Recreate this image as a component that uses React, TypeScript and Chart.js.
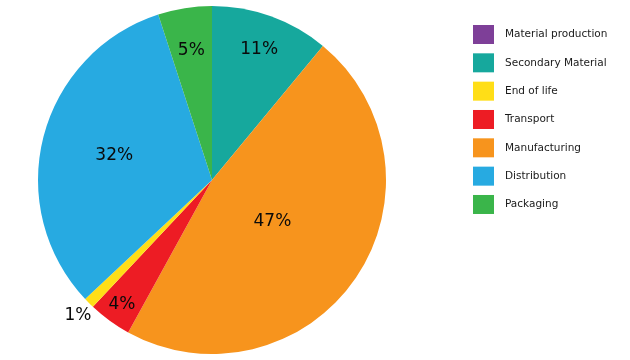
import React, { useEffect, useRef } from "react";
import { Chart, registerables } from "chart.js";

Chart.register(...registerables);

// Slice order (clockwise from 12 o'clock)
const categories = [
  "Material production",
  "Secondary Material",
  "Manufacturing",
  "Transport",
  "End of life",
  "Distribution",
  "Packaging",
];
const shares = [0, 11, 47, 4, 1, 32, 5];
const colors = ["#7E3F98", "#16A89D", "#F7941D", "#ED1C24", "#FFDE17", "#27AAE1", "#3AB54A"];
// Legend order
const legendOrder = [
  "Material production",
  "Secondary Material",
  "End of life",
  "Transport",
  "Manufacturing",
  "Distribution",
  "Packaging",
];
// Radial position of each percentage label (fraction of radius)
const labelRadius = [0.8, 0.8, 0.42, 0.88, 1.09, 0.58, 0.76];

const FONT = '"DejaVu Sans", Verdana, sans-serif';

const labelPlugin = {
  id: "sliceLabels",
  afterDatasetsDraw(chart: any) {
    const ctx = chart.ctx;
    const meta = chart.getDatasetMeta(0);
    ctx.save();
    ctx.font = `17px ${FONT}`;
    ctx.fillStyle = "#0a0a0a";
    ctx.textAlign = "center";
    ctx.textBaseline = "middle";
    meta.data.forEach((arc: any, i: number) => {
      const v = shares[i];
      if (!v) return;
      const p = arc.getProps(["x", "y", "startAngle", "endAngle", "outerRadius"], true);
      const mid = (p.startAngle + p.endAngle) / 2;
      const r = p.outerRadius * labelRadius[i];
      ctx.fillText(`${v}%`, p.x + Math.cos(mid) * r, p.y + Math.sin(mid) * r + 1);
    });
    ctx.restore();
  },
};

const legendPlugin = {
  id: "customLegend",
  afterDraw(chart: any) {
    const ctx = chart.ctx;
    const x0 = 473;
    const y0 = 25;
    const step = 28.33;
    ctx.save();
    ctx.font = `10.5px ${FONT}`;
    ctx.textBaseline = "middle";
    ctx.textAlign = "left";
    legendOrder.forEach((name, k) => {
      const i = categories.indexOf(name);
      const y = y0 + k * step;
      ctx.fillStyle = colors[i];
      ctx.fillRect(x0, y, 21, 19);
      ctx.fillStyle = "#1a1a1a";
      ctx.fillText(name, x0 + 32, y + 9.5);
    });
    ctx.restore();
  },
};

export default function App() {
  const ref = useRef<HTMLCanvasElement>(null);
  useEffect(() => {
    if (!ref.current) return;
    const chart = new Chart(ref.current, {
      type: "pie",
      data: {
        labels: categories,
        datasets: [
          {
            data: shares,
            backgroundColor: colors,
            borderWidth: 0,
          },
        ],
      },
      options: {
        responsive: false,
        devicePixelRatio: 1,
        animation: false,
        layout: { padding: { left: 38, right: 244, top: 6, bottom: 6 } },
        plugins: {
          legend: { display: false },
          tooltip: { enabled: false },
        },
      },
      plugins: [labelPlugin, legendPlugin],
    });
    return () => chart.destroy();
  }, []);
  return (
    <div style={{ position: "absolute", left: 0, top: 0, width: 630, height: 360, background: "#fff" }}>
      <canvas ref={ref} width={630} height={360} />
    </div>
  );
}
